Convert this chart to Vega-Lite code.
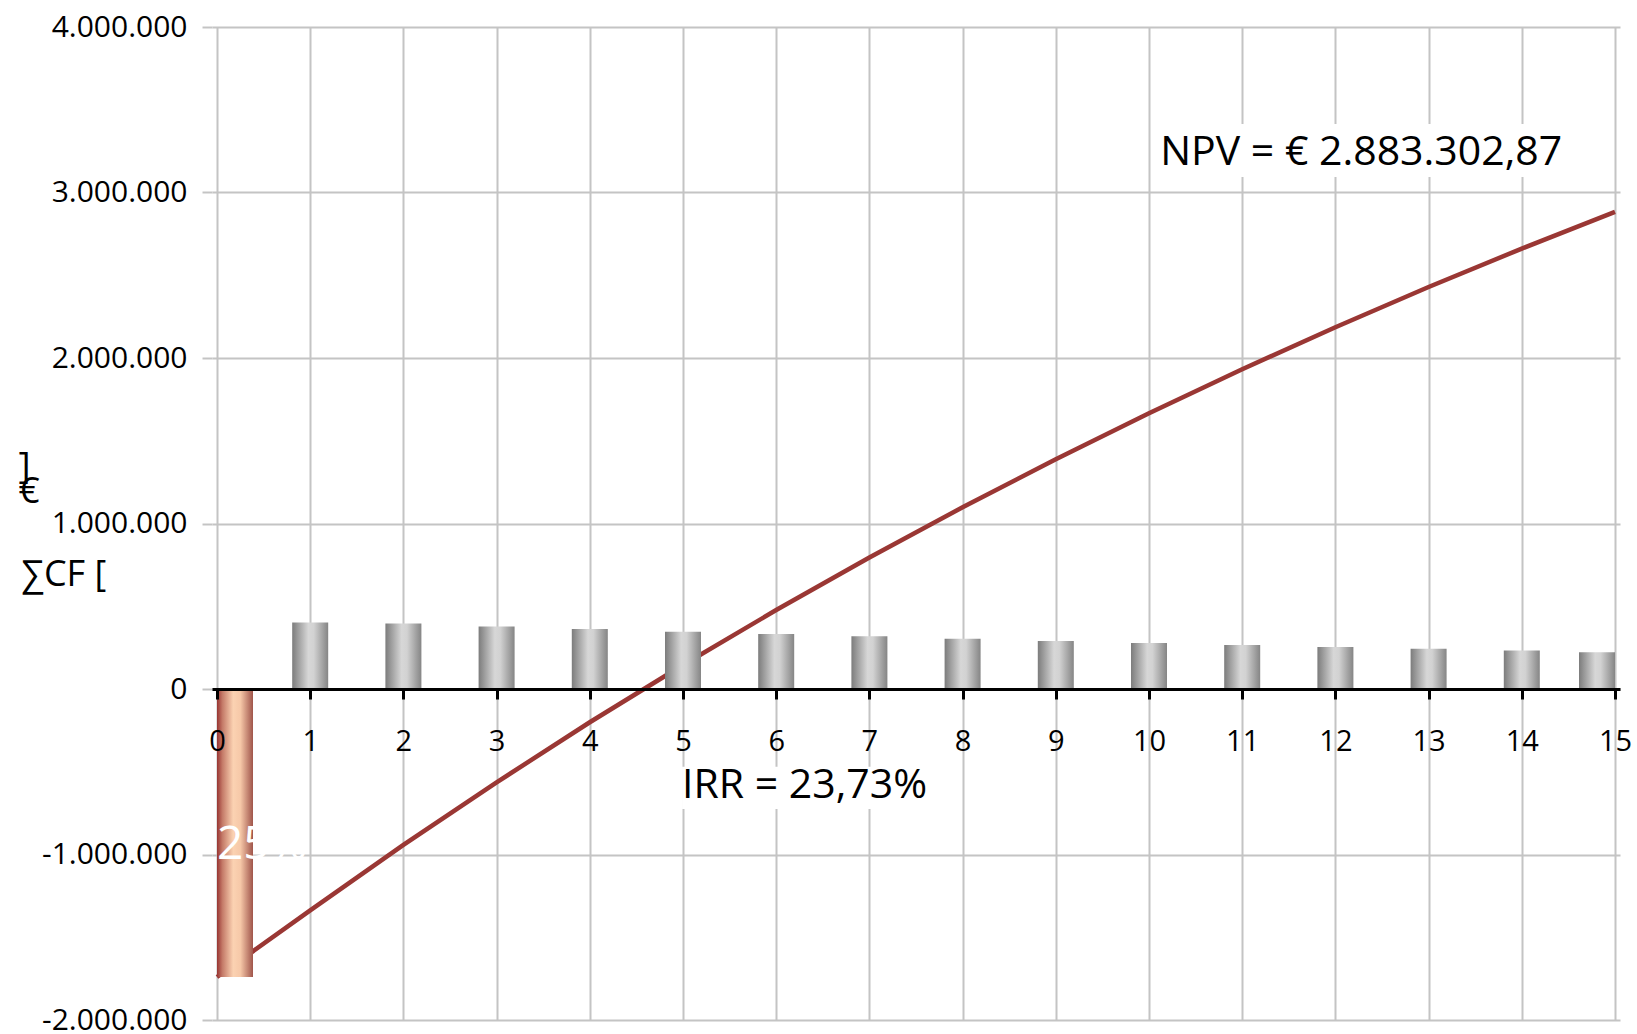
{
  "$schema": "https://vega.github.io/schema/vega-lite/v6.json",
  "width": 1408,
  "height": 993,
  "autosize": {"type": "none"},
  "padding": {"left": 212, "top": 27, "right": 17, "bottom": 14},
  "background": "white",
  "config": {
    "view": {"stroke": null},
    "font": "Open Sans",
    "locale": {"number": {"decimal": ",", "thousands": ".", "grouping": [3], "currency": ["€", ""], "minus": "-"}}
  },
  "data": {
    "values": [
      {"year": 0, "cf": -1740000, "cum": -1740000},
      {"year": 1, "cf": 402000, "cum": -1338000},
      {"year": 2, "cf": 396000, "cum": -942000},
      {"year": 3, "cf": 378000, "cum": -564000},
      {"year": 4, "cf": 363000, "cum": -201000},
      {"year": 5, "cf": 346000, "cum": 145000},
      {"year": 6, "cf": 332000, "cum": 477000},
      {"year": 7, "cf": 318000, "cum": 795000},
      {"year": 8, "cf": 303000, "cum": 1098000},
      {"year": 9, "cf": 290000, "cum": 1388000},
      {"year": 10, "cf": 278000, "cum": 1666000},
      {"year": 11, "cf": 266000, "cum": 1932000},
      {"year": 12, "cf": 254000, "cum": 2186000},
      {"year": 13, "cf": 243000, "cum": 2429000},
      {"year": 14, "cf": 232000, "cum": 2661000},
      {"year": 15, "cf": 222303, "cum": 2883303}
    ]
  },
  "resolve": {"axis": {"x": "independent", "y": "independent"}},
  "layer": [
    {
      "mark": {"type": "line", "color": "#9a3734", "strokeWidth": 4.5},
      "encoding": {
        "x": {
          "field": "year", "type": "quantitative",
          "scale": {"domain": [0, 15], "nice": false, "zero": false},
          "axis": {"orient": "bottom", "grid": true, "labels": false, "ticks": false, "domain": false, "title": null,
                   "values": [0,1,2,3,4,5,6,7,8,9,10,11,12,13,14,15],
                   "gridColor": "#c4c4c4", "gridWidth": 2}
        },
        "y": {
          "field": "cum", "type": "quantitative",
          "scale": {"domain": [-2000000, 4000000], "nice": false},
          "axis": {
            "orient": "left",
            "values": [-2000000, -1000000, 0, 1000000, 2000000, 3000000, 4000000],
            "format": ",d",
            "grid": true, "gridColor": "#c4c4c4", "gridWidth": 2,
            "domain": false,
            "tickColor": "#c4c4c4", "tickWidth": 2, "tickSize": 10,
            "labelFontSize": 30, "labelColor": "#000000", "labelFont": "Open Sans",
            "labelPadding": 15, "labelFlush": false, "labelOverlap": false,
            "title": ["]", "€"],
            "titleFont": "Open Sans", "titleFontSize": 37, "titleFontWeight": "normal",
            "titleColor": "#000000", "titleAngle": 0, "titleAlign": "left",
            "titleBaseline": "top", "titleX": -194, "titleY": 421, "titleLineHeight": 25
          }
        }
      }
    },
    {
      "transform": [{"filter": "datum.year > 0 && datum.year < 15"}],
      "mark": {"type": "bar", "size": 36, "stroke": null,
               "fill": {"gradient": "linear", "x1": 0, "y1": 0, "x2": 1, "y2": 0,
                        "stops": [{"offset": 0, "color": "#7c7c7c"}, {"offset": 0.45, "color": "#d7d7d7"}, {"offset": 0.6, "color": "#d2d2d2"}, {"offset": 1, "color": "#858585"}]}},
      "encoding": {
        "x": {
          "field": "year", "type": "quantitative",
          "axis": {"orient": "bottom", "offset": -331, "grid": false, "title": null, "zindex": 1,
                   "values": [0,1,2,3,4,5,6,7,8,9,10,11,12,13,14,15], "format": "d",
                   "domainColor": "#000000", "domainWidth": 3,
                   "tickColor": "#000000", "tickWidth": 3, "tickSize": 10,
                   "labelFontSize": 29, "labelColor": "#000000", "labelFont": "Open Sans",
                   "labelPadding": 28, "labelFlush": false, "labelOverlap": false}
        },
        "y": {"field": "cf", "type": "quantitative", "axis": null}
      }
    },
    {
      "transform": [{"filter": "datum.year == 15"}],
      "mark": {"type": "bar", "size": 36, "xOffset": -18, "stroke": null,
               "fill": {"gradient": "linear", "x1": 0, "y1": 0, "x2": 1, "y2": 0,
                        "stops": [{"offset": 0, "color": "#7c7c7c"}, {"offset": 0.45, "color": "#d7d7d7"}, {"offset": 0.6, "color": "#d2d2d2"}, {"offset": 1, "color": "#858585"}]}},
      "encoding": {
        "x": {"field": "year", "type": "quantitative", "axis": null},
        "y": {"field": "cf", "type": "quantitative", "axis": null}
      }
    },
    {
      "transform": [{"filter": "datum.year == 0"}],
      "mark": {"type": "bar", "size": 36, "xOffset": 18, "stroke": null,
               "fill": {"gradient": "linear", "x1": 0, "y1": 0, "x2": 1, "y2": 0,
                        "stops": [{"offset": 0, "color": "#983532"}, {"offset": 0.15, "color": "#c47a68"}, {"offset": 0.45, "color": "#fbd2b2"}, {"offset": 0.65, "color": "#f6c8a8"}, {"offset": 1, "color": "#a0554b"}]}},
      "encoding": {
        "x": {"field": "year", "type": "quantitative", "axis": null},
        "y": {"field": "cf", "type": "quantitative", "axis": null}
      }
    },
    {
      "data": {"values": [{}]},
      "mark": {"type": "text", "text": "∑CF [", "color": "#000000", "fontSize": 36, "font": "Open Sans", "align": "left", "baseline": "middle"},
      "encoding": {
        "x": {"datum": -2.1, "type": "quantitative", "axis": null},
        "y": {"datum": 689000, "type": "quantitative", "axis": null}
      }
    },
    {
      "data": {"values": [{}]},
      "mark": {"type": "text", "text": "25%", "color": "#ffffff", "fontSize": 46, "font": "Open Sans", "align": "left", "baseline": "middle"},
      "encoding": {
        "x": {"datum": 0, "type": "quantitative", "axis": null},
        "y": {"datum": -940000, "type": "quantitative", "axis": null}
      }
    },
    {
      "data": {"values": [{}]},
      "mark": {"type": "rect", "color": "#ffffff"},
      "encoding": {
        "x": {"datum": 10.05, "type": "quantitative", "axis": null},
        "x2": {"datum": 14.55},
        "y": {"datum": 3414000, "type": "quantitative", "axis": null},
        "y2": {"datum": 3094000}
      }
    },
    {
      "data": {"values": [{}]},
      "mark": {"type": "rect", "color": "#ffffff"},
      "encoding": {
        "x": {"datum": 4.99, "type": "quantitative", "axis": null},
        "x2": {"datum": 7.7},
        "y": {"datum": -470000, "type": "quantitative", "axis": null},
        "y2": {"datum": -725000}
      }
    },
    {
      "data": {"values": [{}]},
      "mark": {"type": "text", "text": "NPV = € 2.883.302,87", "color": "#000000", "fontSize": 41, "font": "Open Sans", "align": "left", "baseline": "middle"},
      "encoding": {
        "x": {"datum": 10.12, "type": "quantitative", "axis": null},
        "y": {"datum": 3240000, "type": "quantitative", "axis": null}
      }
    },
    {
      "data": {"values": [{}]},
      "mark": {"type": "text", "text": "IRR = 23,73%", "color": "#000000", "fontSize": 41, "font": "Open Sans", "align": "left", "baseline": "middle"},
      "encoding": {
        "x": {"datum": 4.99, "type": "quantitative", "axis": null},
        "y": {"datum": -585000, "type": "quantitative", "axis": null}
      }
    }
  ]
}
